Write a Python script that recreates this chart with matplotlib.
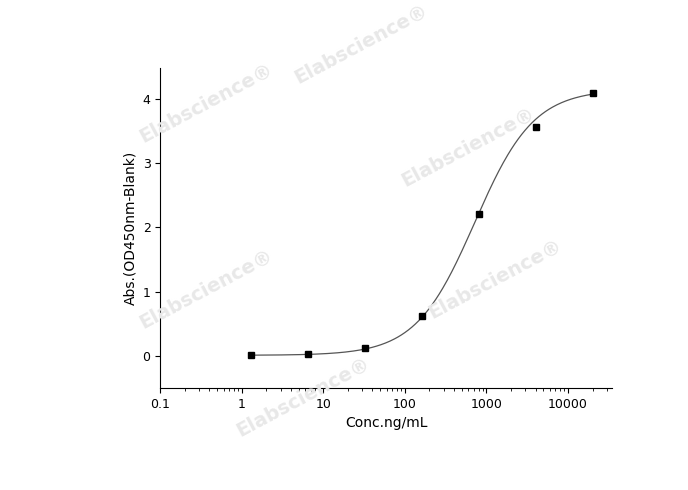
import numpy as np
import matplotlib
matplotlib.use("Agg")
import matplotlib.pyplot as plt

conc = [1.28, 6.4, 32, 160, 800, 4000, 20000]
absb = [0.01, 0.03, 0.13, 0.62, 2.21, 3.56, 4.10]
# 4PL fit parameters (bottom, top, ec50, hill)
fit = (0.01, 4.15, 720.0, 1.2)

fig = plt.figure(figsize=(6.88, 4.9), dpi=100)
for (x, y) in [(0.525, 0.91), (0.30, 0.79), (0.68, 0.70), (0.30, 0.41), (0.72, 0.43), (0.44, 0.19)]:
    fig.text(x, y, "Elabscience\u00ae", rotation=28, fontsize=14, color="#e8e8e8",
             fontweight="bold", ha="center", va="center", zorder=0)
ax = fig.add_axes([0.233, 0.208, 0.657, 0.653])
ax.patch.set_alpha(0)
xs = np.logspace(np.log10(1.28), np.log10(20000), 300)
b, t, c, h = fit
ax.plot(xs, b + (t - b) / (1 + (c / xs) ** h), color="#555555", lw=0.9)
ax.plot(conc, absb, "s", color="black", ms=4.5)
ax.set_xscale("log")
ax.set_xlim(0.1, 35000)
ax.set_ylim(-0.5, 4.48)
ax.set_xticks([0.1, 1, 10, 100, 1000, 10000])
ax.set_xticklabels(["0.1", "1", "10", "100", "1000", "10000"])
ax.set_yticks([0, 1, 2, 3, 4])
ax.spines["top"].set_visible(False)
ax.spines["right"].set_visible(False)
ax.tick_params(labelsize=9)
ax.set_xlabel("Conc.ng/mL", fontsize=10)
ax.set_ylabel("Abs.(OD450nm-Blank)", fontsize=10)

fig.savefig("out.png", dpi=100)
